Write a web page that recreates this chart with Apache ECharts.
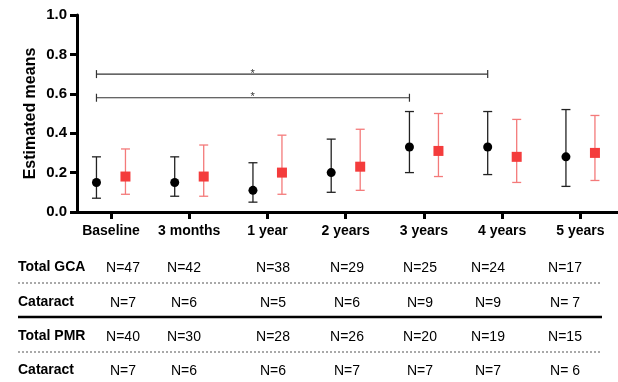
<!DOCTYPE html>
<html>
<head>
<meta charset="utf-8">
<script src="https://cdn.jsdelivr.net/npm/echarts@6/dist/echarts.min.js"></script>
<style>
  html, body { margin: 0; padding: 0; background: #fff; }
  #chart { width: 618px; height: 382px; }
</style>
</head>
<body>
<div id="chart"></div>
<script>
const categories = ["Baseline", "3 months", "1 year", "2 years", "3 years", "4 years", "5 years"];

// black circles
const gcaMean = [0.15, 0.15, 0.11, 0.20, 0.33, 0.33, 0.28];
const gcaLow = [0.07, 0.08, 0.05, 0.10, 0.20, 0.19, 0.13];
const gcaHigh = [0.28, 0.28, 0.25, 0.37, 0.51, 0.51, 0.52];
// red squares
const pmrMean = [0.18, 0.18, 0.20, 0.23, 0.31, 0.28, 0.30];
const pmrLow = [0.09, 0.08, 0.09, 0.11, 0.18, 0.15, 0.16];
const pmrHigh = [0.32, 0.34, 0.39, 0.42, 0.50, 0.47, 0.49];

// significance brackets: [from category, to category, y level]
const brackets = [[0, 5, 0.70], [0, 4, 0.58]];

const rowLabels = ["Total GCA", "Cataract", "Total PMR", "Cataract"];
const nTotalGca = [47, 42, 38, 29, 25, 24, 17];
const nCataractGca = [7, 6, 5, 6, 9, 9, 7];
const nTotalPmr = [40, 30, 28, 26, 20, 19, 15];
const nCataractPmr = [7, 6, 6, 7, 7, 7, 6];

const FONT = "Liberation Sans, Arial, sans-serif";
const OFFSET = 14.5; // px shift of each group from the tick
const STAR_POS = 1.81;

function errorSeries(mean, low, high, color, barColor, shift, square) {
  return {
    type: "custom",
    data: mean.map((m, i) => [i, m, low[i], high[i]]),
    renderItem(params, api) {
      const i = api.value(0);
      const c = api.coord([i, api.value(1)]);
      const x = c[0] + shift;
      const yl = api.coord([i, api.value(2)])[1];
      const yh = api.coord([i, api.value(3)])[1];
      const ls = { stroke: barColor, lineWidth: 1.3 };
      const marker = square
        ? { type: "rect", shape: { x: x - 5, y: c[1] - 5, width: 10, height: 10 }, style: { fill: color } }
        : { type: "circle", shape: { cx: x, cy: c[1], r: 4.5 }, style: { fill: color } };
      return {
        type: "group",
        children: [
          { type: "line", shape: { x1: x, y1: yl, x2: x, y2: yh }, style: ls },
          { type: "line", shape: { x1: x - 4.5, y1: yl, x2: x + 4.5, y2: yl }, style: ls },
          { type: "line", shape: { x1: x - 4.5, y1: yh, x2: x + 4.5, y2: yh }, style: ls },
          marker
        ]
      };
    }
  };
}

const tableY = [268, 303, 337, 371];
const tableX = [123, 184, 273, 347, 420, 488, 565];
const tableData = [nTotalGca, nCataractGca, nTotalPmr, nCataractPmr];
const graphic = [];
tableData.forEach((row, r) => {
  graphic.push({
    type: "text", left: 18, top: tableY[r] - 8,
    style: { text: rowLabels[r], font: "bold 14px " + FONT, fill: "#000" }
  });
  row.forEach((n, c) => {
    const txt = c === 6 && n < 10 ? "N= " + n : "N=" + n;
    graphic.push({
      type: "text", x: tableX[c], y: tableY[r],
      style: { text: txt, font: "14px " + FONT, fill: "#000", align: "center", verticalAlign: "middle" }
    });
  });
});
[[283, true], [317, false], [352, true]].forEach(([y, dashed]) => {
  graphic.push({
    type: "line",
    shape: { x1: 18, y1: y, x2: 602, y2: y },
    style: dashed ? { stroke: "#555", lineWidth: 1, lineDash: [2, 2] } : { stroke: "#000", lineWidth: 2.5 }
  });
});

const chart = echarts.init(document.getElementById("chart"));
chart.setOption({
  animation: false,
  grid: { left: 77, right: 0, top: 15, bottom: 170 },
  graphic,
  xAxis: {
    type: "value",
    min: -0.434,
    max: 6.48,
    splitLine: { show: false },
    axisLine: { lineStyle: { color: "#000", width: 3 } },
    axisTick: { customValues: [0, 1, 2, 3, 4, 5, 6], length: 7, lineStyle: { color: "#000", width: 3 } },
    axisLabel: {
      customValues: [0, 1, 2, 3, 4, 5, 6],
      formatter: v => categories[Math.round(v)],
      margin: 12,
      color: "#000",
      fontFamily: FONT,
      fontWeight: "bold",
      fontSize: 14
    }
  },
  yAxis: {
    type: "value",
    min: 0,
    max: 1,
    interval: 0.2,
    name: "Estimated means",
    nameLocation: "middle",
    nameGap: 38,
    nameMoveOverlap: false,
    nameTextStyle: { color: "#000", fontFamily: FONT, fontWeight: "bold", fontSize: 16 },
    splitLine: { show: false },
    axisLine: { show: true, onZero: false, lineStyle: { color: "#000", width: 3 } },
    axisTick: { show: true, length: 7, lineStyle: { color: "#000", width: 3 } },
    axisLabel: {
      formatter: v => v.toFixed(1),
      margin: 10,
      color: "#000",
      fontFamily: FONT,
      fontWeight: "bold",
      fontSize: 15
    }
  },
  series: [
    {
      type: "custom",
      data: brackets,
      z: 1,
      renderItem(params, api) {
        const y = api.coord([0, api.value(2)])[1];
        const x1 = api.coord([api.value(0), 0])[0] - OFFSET;
        const x2 = api.coord([api.value(1), 0])[0] - OFFSET;
        const xs = api.coord([STAR_POS, 0])[0];
        const ls = { stroke: "#333", lineWidth: 1.2 };
        return {
          type: "group",
          children: [
            { type: "line", shape: { x1, y1: y, x2, y2: y }, style: ls },
            { type: "line", shape: { x1, y1: y - 4, x2: x1, y2: y + 4 }, style: ls },
            { type: "line", shape: { x1: x2, y1: y - 4, x2, y2: y + 4 }, style: ls },
            { type: "text", x: xs, y: y - 0.5, style: { text: "*", font: "11px " + FONT, fill: "#333", align: "center", verticalAlign: "middle" } }
          ]
        };
      }
    },
    errorSeries(gcaMean, gcaLow, gcaHigh, "#000", "#222", -OFFSET, false),
    errorSeries(pmrMean, pmrLow, pmrHigh, "#f43c3c", "#f47a7a", OFFSET, true)
  ]
});
</script>
</body>
</html>
